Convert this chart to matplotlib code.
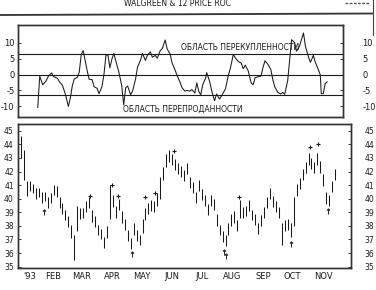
import numpy as np
import matplotlib
matplotlib.use("Agg")
import matplotlib.pyplot as plt
from matplotlib.lines import Line2D

plt.rcParams['font.family'] = ['Liberation Sans Narrow', 'DejaVu Sans']

## Data
title = "WALGREEN & 12 PRICE ROC"
month_names = ["'93", "FEB", "MAR", "APR", "MAY", "JUN", "JUL", "AUG", "SEP", "OCT", "NOV"]
month_days = [7, 31, 59, 90, 120, 151, 181, 212, 243, 273, 304]

# price bars, one every third calendar day (day 0 = 1 Jan 1993)
close = [43.6, 42.7, 40.5, 41.0, 40.8, 40.4, 40.5, 40.1, 40.2, 39.7,
         40.1, 40.7, 40.5, 39.7, 39.3, 38.8, 38.3, 37.6, 36.5, 39.0,
         38.9, 39.0, 39.4, 39.7, 38.7, 38.3, 37.7, 37.4, 36.8, 37.5,
         40.5, 39.8, 39.0, 39.6, 38.6, 38.1, 37.3, 36.7, 37.8, 37.3,
         36.9, 38.0, 38.9, 39.3, 39.5, 39.4, 39.9, 41.2, 41.9, 42.8,
         43.1, 42.9, 42.5, 42.2, 42.0, 41.7, 42.2, 41.2, 40.8, 40.1,
         41.0, 40.3, 39.9, 39.2, 39.9, 39.6, 38.4, 37.7, 37.2, 36.9,
         37.8, 38.4, 38.6, 38.0, 39.5, 39.0, 39.1, 39.5, 38.8, 38.5,
         37.8, 38.4, 39.0, 39.7, 40.4, 39.8, 39.4, 39.0, 37.7, 38.0,
         38.1, 37.7, 39.6, 40.7, 41.1, 41.8, 42.3, 42.9, 42.6, 42.3,
         42.9, 42.3, 41.3, 40.1, 39.9, 40.9, 41.8]
high = [44.6, 43.6, 41.3, 41.3, 41.1, 40.8, 40.8, 40.5, 40.5, 40.1,
        40.4, 41.0, 40.9, 40.1, 39.7, 39.2, 38.7, 38.1, 37.3, 39.5,
        39.3, 39.3, 39.8, 40.1, 39.2, 38.7, 38.1, 37.8, 37.2, 38.0,
        41.0, 40.3, 39.5, 40.0, 39.1, 38.5, 37.7, 37.1, 38.2, 37.7,
        37.3, 38.5, 39.3, 39.7, 39.9, 39.8, 40.4, 41.6, 42.3, 43.3,
        43.6, 43.3, 42.9, 42.6, 42.4, 42.1, 42.6, 41.6, 41.2, 40.5,
        41.4, 40.7, 40.3, 39.6, 40.3, 40.0, 38.9, 38.1, 37.6, 37.3,
        38.2, 38.9, 39.1, 38.4, 39.9, 39.4, 39.5, 39.9, 39.2, 38.9,
        38.2, 38.8, 39.4, 40.1, 40.8, 40.2, 39.8, 39.4, 38.2, 38.4,
        38.5, 38.2, 40.1, 41.1, 41.5, 42.2, 42.7, 43.4, 43.0, 42.7,
        43.4, 42.8, 41.8, 40.5, 40.3, 41.3, 42.2]
low = [43.0, 41.4, 40.2, 40.6, 40.4, 40.0, 40.1, 39.7, 39.8, 39.3,
       39.7, 40.3, 40.1, 39.3, 38.9, 38.4, 37.9, 37.1, 35.5, 37.6,
       38.5, 38.6, 39.0, 39.3, 38.3, 37.9, 37.3, 37.0, 36.4, 37.1,
       38.5, 39.4, 38.6, 39.2, 38.2, 37.7, 36.9, 36.3, 37.3, 36.9,
       36.6, 37.5, 38.4, 38.9, 39.1, 39.0, 39.5, 40.0, 41.4, 42.3,
       42.7, 42.5, 42.1, 41.8, 41.6, 41.3, 41.8, 40.8, 40.4, 39.7,
       40.6, 39.9, 39.5, 38.8, 39.5, 39.2, 38.0, 37.3, 36.8, 36.5,
       37.3, 38.0, 38.2, 37.6, 38.6, 38.6, 38.7, 39.1, 38.4, 38.1,
       37.4, 38.0, 38.6, 39.3, 40.0, 39.4, 39.0, 38.6, 36.6, 37.6,
       37.7, 37.2, 38.0, 40.2, 40.7, 41.4, 41.9, 42.5, 42.2, 41.9,
       42.5, 41.9, 40.9, 39.6, 39.5, 40.5, 41.4]
price_day = np.arange(len(close)) * 3 - 2

# swing markers on the price panel
peak_day = [68, 90, 96, 124, 134, 153, 219, 291, 299]
peak_val = [40.2, 41.0, 40.2, 40.1, 40.4, 43.5, 40.1, 43.8, 44.0]
trough_day = [21, 110, 203, 206, 271, 309]
trough_val = [39.0, 35.9, 36.1, 35.8, 36.7, 39.1]

# 12-day price rate of change, %
roc_day = [15, 17, 20, 23, 26, 29, 31, 35, 37, 40, 43, 46, 48, 50, 52, 55,
           57, 59, 61, 63, 65, 67, 70, 72, 75, 77, 80, 82, 84, 86, 88, 90,
           92, 95, 97, 100, 102, 104, 106, 109, 111, 114, 116, 119, 121, 124,
           126, 129, 131, 134, 136, 139, 141, 144, 146, 149, 151, 154, 156,
           159, 161, 164, 166, 169, 171, 174, 176, 178, 180, 182, 185, 186,
           189, 191, 194, 196, 199, 201, 205, 208, 210, 213, 215, 218, 221,
           223, 225, 228, 231, 233, 235, 238, 241, 243, 245, 248, 251, 253,
           255, 258, 261, 263, 265, 268, 270, 272, 275, 277, 280, 282, 284,
           286, 289, 291, 294, 296, 299, 301, 302, 304, 306, 308]
roc = [-10.3, -0.5, -3.2, -2.2, -0.4, 0.5, -0.6, -1.2, -2.3, -3.4, -6.2,
       -10.0, -7.3, -3.5, -1.4, -0.9, 0.7, 6.2, 7.5, 4.4, 1.2, -1.5, -1.6,
       -3.8, -4.3, -6.0, -3.8, 0.0, 6.0, 6.2, 2.1, 4.8, 6.6, 3.1, 0.9, -3.5,
       -9.5, -4.1, -3.6, -6.3, -5.2, -1.4, 2.3, 4.5, 6.6, 4.4, 6.0, 7.1, 5.4,
       6.0, 5.1, 7.5, 8.1, 10.8, 8.0, 6.4, 3.6, 1.4, -0.3, -2.4, -4.1, -5.2,
       -5.0, -5.2, -4.7, -5.8, -2.6, -5.3, -6.4, -3.2, -1.1, 0.6, -2.2, -5.0,
       -8.2, -6.1, -7.7, -6.7, -4.5, -0.2, 2.0, 6.3, 5.2, 4.1, 3.5, 1.8, 2.9,
       1.2, -2.6, -3.2, -1.0, -0.7, -0.5, 2.2, 4.3, 3.2, 1.5, -1.7, -3.9,
       -5.6, -6.1, -5.6, -6.2, -1.9, 4.6, 10.9, 10.0, 7.3, 8.9, 11.0, 13.0,
       8.8, 5.5, 3.8, 6.0, 3.8, 1.6, -0.1, -6.0, -6.0, -2.8, -2.3]
overbought, oversold = 6.5, -6.5
roc_ticks = [10, 5, 0, -5, -10]
price_ticks = list(range(35, 46))

assert len(close) == len(high) == len(low)
assert len(roc_day) == len(roc)

## Figure
W, H = 376, 290
fig = plt.figure(figsize=(W / 100, H / 100), dpi=100)
fig.patch.set_facecolor('white')

def box(l, t, r, b):
    return [l / W, 1 - b / H, (r - l) / W, (b - t) / H]

ink = '#1a1a1a'
tick_font = 6

# ROC panel
ax1 = fig.add_axes(box(18, 25, 343, 117))
ax1.plot(roc_day, roc, color=ink, lw=0.75)
for lvl in [overbought, 0, oversold]:
    ax1.axhline(lvl, color=ink, lw=0.8)
ax1.set_xlim(-5, 324)
ax1.set_ylim(-13.3, 15.5)
ax1.set_xticks([])
ax1.set_yticks(roc_ticks)
ax1.set_yticklabels([str(t) for t in roc_ticks])
ax1.tick_params(axis='y', direction='in', length=2, width=0.6, pad=2.5,
                labelsize=tick_font, colors=ink)
ax1r = ax1.twinx()
ax1r.set_ylim(ax1.get_ylim())
ax1r.set_yticks(roc_ticks)
ax1r.set_yticklabels([str(t) for t in roc_ticks])
ax1r.tick_params(axis='y', direction='in', length=2, width=0.6, pad=14,
                 labelsize=tick_font, colors=ink)
ax1.text(160, 8.3, "ОБЛАСТЬ ПЕРЕКУПЛЕННОСТИ", fontsize=5.5, color=ink,
         va='center', ha='left')
ax1.text(101, -10.8, "ОБЛАСТЬ ПЕРЕПРОДАННОСТИ", fontsize=5.5, color=ink,
         va='center', ha='left')

# price panel
ax2 = fig.add_axes(box(18, 124, 351, 268))
ax2.vlines(price_day, low, high, color=ink, lw=0.75)
ax2.plot(price_day, close, ls='none', marker=3, ms=1.6, mew=0.6, color=ink)
ax2.plot(peak_day, peak_val, ls='none', marker='+', ms=3, mew=0.8, color=ink)
ax2.plot(trough_day, trough_val, ls='none', marker=r'$\uparrow$', ms=4,
         mew=0.3, color=ink)
ax2.set_xlim(-5, 332)
ax2.set_ylim(34.9, 45.5)
ax2.set_xticks(month_days)
ax2.set_xticklabels(month_names)
ax2.tick_params(axis='x', length=0, pad=3, labelsize=tick_font, colors=ink)
ax2.set_yticks(price_ticks)
ax2.set_yticklabels([str(t) for t in price_ticks])
ax2.tick_params(axis='y', direction='in', length=2, width=0.6, pad=3,
                labelsize=tick_font - 0.5, colors=ink)
ax2r = ax2.twinx()
ax2r.set_ylim(ax2.get_ylim())
ax2r.set_yticks(price_ticks)
ax2r.set_yticklabels([str(t) for t in price_ticks])
ax2r.tick_params(axis='y', direction='in', length=2, width=0.6, pad=10,
                 labelsize=tick_font - 0.5, colors=ink)

for a in [ax1, ax1r, ax2, ax2r]:
    for s in a.spines.values():
        s.set_linewidth(1.0)
        s.set_color('#333333')

# title and scan edges
fig.text(177 / W, 1 - 4 / H, title, fontsize=5.5, ha='center', va='center',
         color=ink)
fig.add_artist(Line2D([0, 372 / W], [1 - 15 / H, 1 - 13.5 / H],
                      color='#333333', lw=1.3))
fig.add_artist(Line2D([373 / W, 373 / W], [1, 1 - 35 / H],
                      color='#444444', lw=0.8))
fig.add_artist(Line2D([345 / W, 370 / W], [1 - 2.5 / H, 1 - 2.5 / H],
                      color='#555555', lw=1.0, ls=(0, (2, 1))))

fig.savefig("out.png", dpi=100, facecolor='white')
